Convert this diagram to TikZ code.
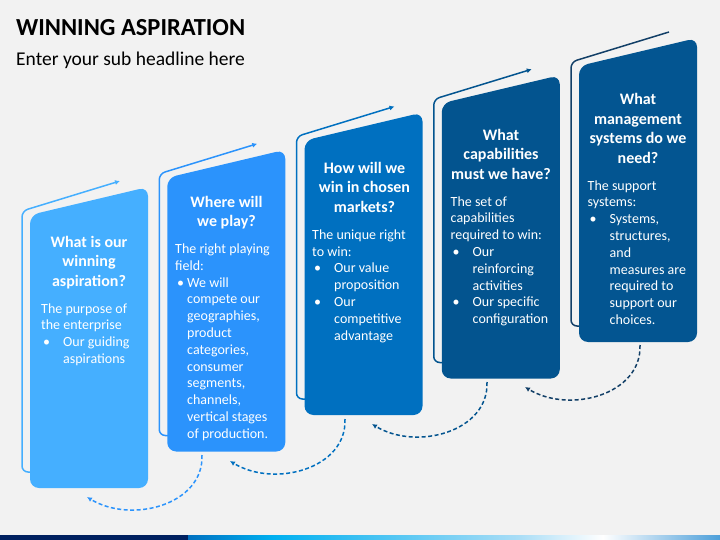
\documentclass[tikz,border=0pt]{standalone}
\usepackage{fontspec}
\setmainfont{Carlito}
\usetikzlibrary{arrows.meta}

\definecolor{bgGray}{HTML}{F2F2F2}
\definecolor{cardA}{HTML}{45AFFF}
\definecolor{cardB}{HTML}{2B93FC}
\definecolor{cardC}{HTML}{0070C0}
\definecolor{cardD}{HTML}{03548F}
\definecolor{cardE}{HTML}{035591}
\definecolor{lineE}{HTML}{123F67}
\definecolor{barNavy}{HTML}{002060}
\definecolor{barBlue}{HTML}{0070C0}
\definecolor{barCyan}{HTML}{00B0F0}
\definecolor{barPale}{HTML}{A9DDF6}
\definecolor{barEnd}{HTML}{4C9FDA}

\pgfdeclarehorizontalshading{barshade}{100bp}{color(0bp)=(barBlue); color(25bp)=(barBlue);
	color(33bp)=(barCyan); color(56bp)=(barPale); color(64bp)=(white); color(75bp)=(barEnd); color(100bp)=(barEnd)}

\newcommand\bulletmark[1][20pt]{\hspace*{2pt}\makebox[#1][l]{\textbullet}}
\newcommand\bulletrest[1][20pt]{\hspace*{\dimexpr #1+2pt\relax}}

\tikzset{
	cardfill/.style = {rounded corners = 9pt},
	cardline/.style = {line width = 1.5pt, rounded corners = 6pt},
	tipped/.style = {-{Latex[length = 5pt, width = 5pt]}},
	plain/.style = {},
	cardhead/.style = {font = \fontsize{16}{19.5}\selectfont\bfseries, text = white, align = center, anchor = base, inner sep = 0},
	cardbody/.style = {font = \fontsize{14}{16.8}\selectfont, text = white, align = left, anchor = base west, inner sep = 0},
	returnarrow/.style = {line width = 1.5pt, dash pattern = on 4pt off 2.5pt, -{Latex[length = 5pt, width = 5pt]}}
}

\begin{document}
\begin{tikzpicture}[x = 1pt, y = -1pt]

	% Background
	
	\fill [bgGray] (0, 0) rectangle (720, 540);
	\useasboundingbox (0, 0) rectangle (720, 540);
	
	% Title + sub headline
	
	\node (title) [anchor = base west, inner sep = 0, font = \fontsize{24.5}{29}\selectfont\bfseries] at (16, 36) {WINNING ASPIRATION};
	\node (subtitle) [anchor = base west, inner sep = 0, font = \fontsize{19.5}{23}\selectfont] at (16, 66) {Enter your sub headline here};
	
	% Draw cards + outlines
	
	\foreach \i/\col/\edge/\tip in {0/cardA/cardA/tipped, 1/cardB/cardB/tipped, 2/cardC/cardC/tipped, 3/cardD/cardD/tipped, 4/cardE/lineE/plain} {
		\pgfmathsetmacro\L{30 + 137.25 * \i}
		\pgfmathsetmacro\T{215 - 37.25 * \i}
		\pgfmathsetmacro\B{488 - 36.5 * \i}
		\draw [cardline, \edge, \tip] (\L + 10, \B - 16) -- (\L - 8, \B - 16) -- (\L - 8, \T - 4) -- (\L + 90, \T - 34);
		\fill [cardfill, \col] (\L, \B) -- (\L, \T) -- (\L + 118, \T - 28) -- (\L + 118, \B) -- cycle;
	}
	
	% Card headings (placed at the baseline of their last line)
	
	\node (headA) [cardhead] at (89, 286) {What is our\\winning\\aspiration?};
	\node (headB) [cardhead] at (226.5, 226.5) {Where will\\we play?};
	\node (headC) [cardhead] at (364.5, 212.3) {How will we\\win in chosen\\markets?};
	\node (headD) [cardhead] at (501, 179.5) {What\\capabilities\\must we have?};
	\node (headE) [cardhead] at (638, 163.5) {What\\management\\systems do we\\need?};
	
	% Card texts (placed at the baseline of their last line)
	
	\node (bodyA) [cardbody] at (41, 363.4) {The purpose of\\the enterprise\\\bulletmark Our guiding\\\bulletrest aspirations};
	\node (bodyB) [cardbody] at (175, 438.3) {The right playing\\field:\\\bulletmark[10pt]We will\\\bulletrest[10pt]compete our\\\bulletrest[10pt]geographies,\\\bulletrest[10pt]product\\\bulletrest[10pt]categories,\\\bulletrest[10pt]consumer\\\bulletrest[10pt]segments,\\\bulletrest[10pt]channels,\\\bulletrest[10pt]vertical stages\\\bulletrest[10pt]of production.};
	\node (bodyC) [cardbody] at (312, 340.1) {The unique right\\to win:\\\bulletmark Our value\\\bulletrest proposition\\\bulletmark Our\\\bulletrest competitive\\\bulletrest advantage};
	\node (bodyD) [cardbody] at (450.5, 323.6) {The set of\\capabilities\\required to win:\\\bulletmark Our\\\bulletrest reinforcing\\\bulletrest activities\\\bulletmark Our specific\\\bulletrest configuration};
	\node (bodyE) [cardbody] at (587.5, 324.4) {The support\\systems:\\\bulletmark Systems,\\\bulletrest structures,\\\bulletrest and\\\bulletrest measures are\\\bulletrest required to\\\bulletrest support our\\\bulletrest choices.};
	
	% Dashed return arrows
	
	\foreach \n/\x/\y/\col in {1/202/455/cardB, 2/345/419/cardC, 3/487/382/cardD, 4/640/345/lineE} {
		\coordinate (from\n) at (\x, \y);
		\coordinate (to\n) at (\x - 115, \y + 42);
		\draw [returnarrow, \col] (from\n) .. controls +(2, 50) and +(44, 27) .. (to\n);
	}
	
	% Bottom bar
	
	\fill [barNavy] (0, 535) rectangle (188, 540);
	\shade [shading = barshade] (188, 535) rectangle (720, 540);
	
\end{tikzpicture}
\end{document}
